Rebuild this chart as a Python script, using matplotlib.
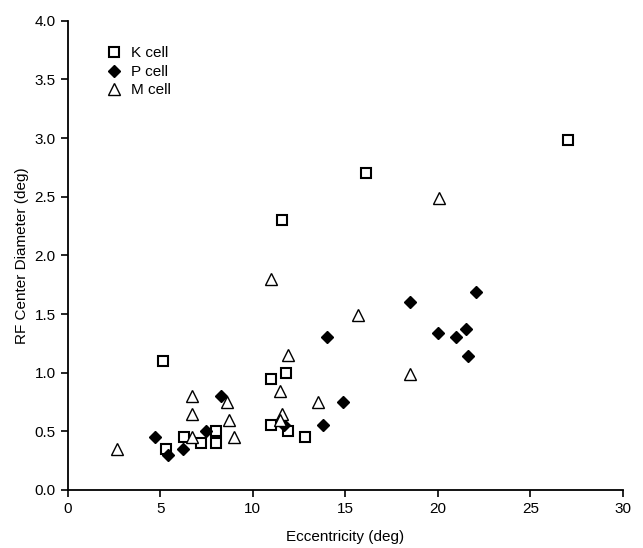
import matplotlib
matplotlib.use("Agg")
import matplotlib.pyplot as plt

plt.rcParams['font.family'] = ['Liberation Sans', 'DejaVu Sans']

# K cells
k_ecc = [5.15, 5.3, 6.3, 7.2, 8.0, 8.0, 11.0, 11.0, 11.6, 11.8, 11.9, 12.8, 16.1, 27.0]
k_diam = [1.1, 0.35, 0.45, 0.40, 0.50, 0.40, 0.95, 0.55, 2.3, 1.0, 0.5, 0.45, 2.7, 2.98]

# P cells
p_ecc = [4.7, 5.45, 6.25, 7.5, 8.3, 11.7, 13.8, 14.0, 14.9, 18.5, 20.0, 21.0, 21.5, 21.6, 22.05]
p_diam = [0.45, 0.30, 0.35, 0.50, 0.80, 0.55, 0.55, 1.30, 0.75, 1.60, 1.34, 1.30, 1.37, 1.14, 1.69]

# M cells
m_ecc = [2.65, 6.7, 6.7, 6.7, 8.6, 8.7, 9.0, 11.0, 11.5, 11.6, 11.5, 11.9, 13.5, 15.7, 18.5, 20.05]
m_diam = [0.35, 0.80, 0.65, 0.45, 0.75, 0.60, 0.45, 1.80, 0.84, 0.65, 0.60, 1.15, 0.75, 1.49, 0.99, 2.49]

fig = plt.figure(figsize=(6.43, 5.48), dpi=100)
ax = fig.add_axes([0.105, 0.106, 0.864, 0.856])

ax.plot(k_ecc, k_diam, 's', ms=7, mfc='white', mec='black', mew=1.5, ls='none', label='K cell')
ax.plot(p_ecc, p_diam, 'D', ms=6, mfc='black', mec='black', ls='none', label='P cell')
ax.plot(m_ecc, m_diam, '^', ms=9, mfc='white', mec='black', mew=1.0, ls='none', label='M cell')

ax.set_xlim(0, 30)
ax.set_ylim(0, 4.0)
ax.set_xticks([0, 5, 10, 15, 20, 25, 30])
ax.set_yticks([0.0, 0.5, 1.0, 1.5, 2.0, 2.5, 3.0, 3.5, 4.0])
ax.set_yticklabels(['%.1f' % v for v in ax.get_yticks()])
for s in ['top', 'right']:
    ax.spines[s].set_visible(False)
for s in ['left', 'bottom']:
    ax.spines[s].set_linewidth(1.3)
ax.tick_params(direction='out', length=5, width=1.2, labelsize=11)

ax.set_xlabel('Eccentricity (deg)', fontsize=11, labelpad=10)
ax.set_ylabel('RF Center Diameter (deg)', fontsize=11)

ax.legend(loc='upper left', bbox_to_anchor=(0.045, 0.975), frameon=False, fontsize=11,
          handletextpad=0.6, labelspacing=0.3, handlelength=1.0)

fig.savefig('out.png', dpi=100)
